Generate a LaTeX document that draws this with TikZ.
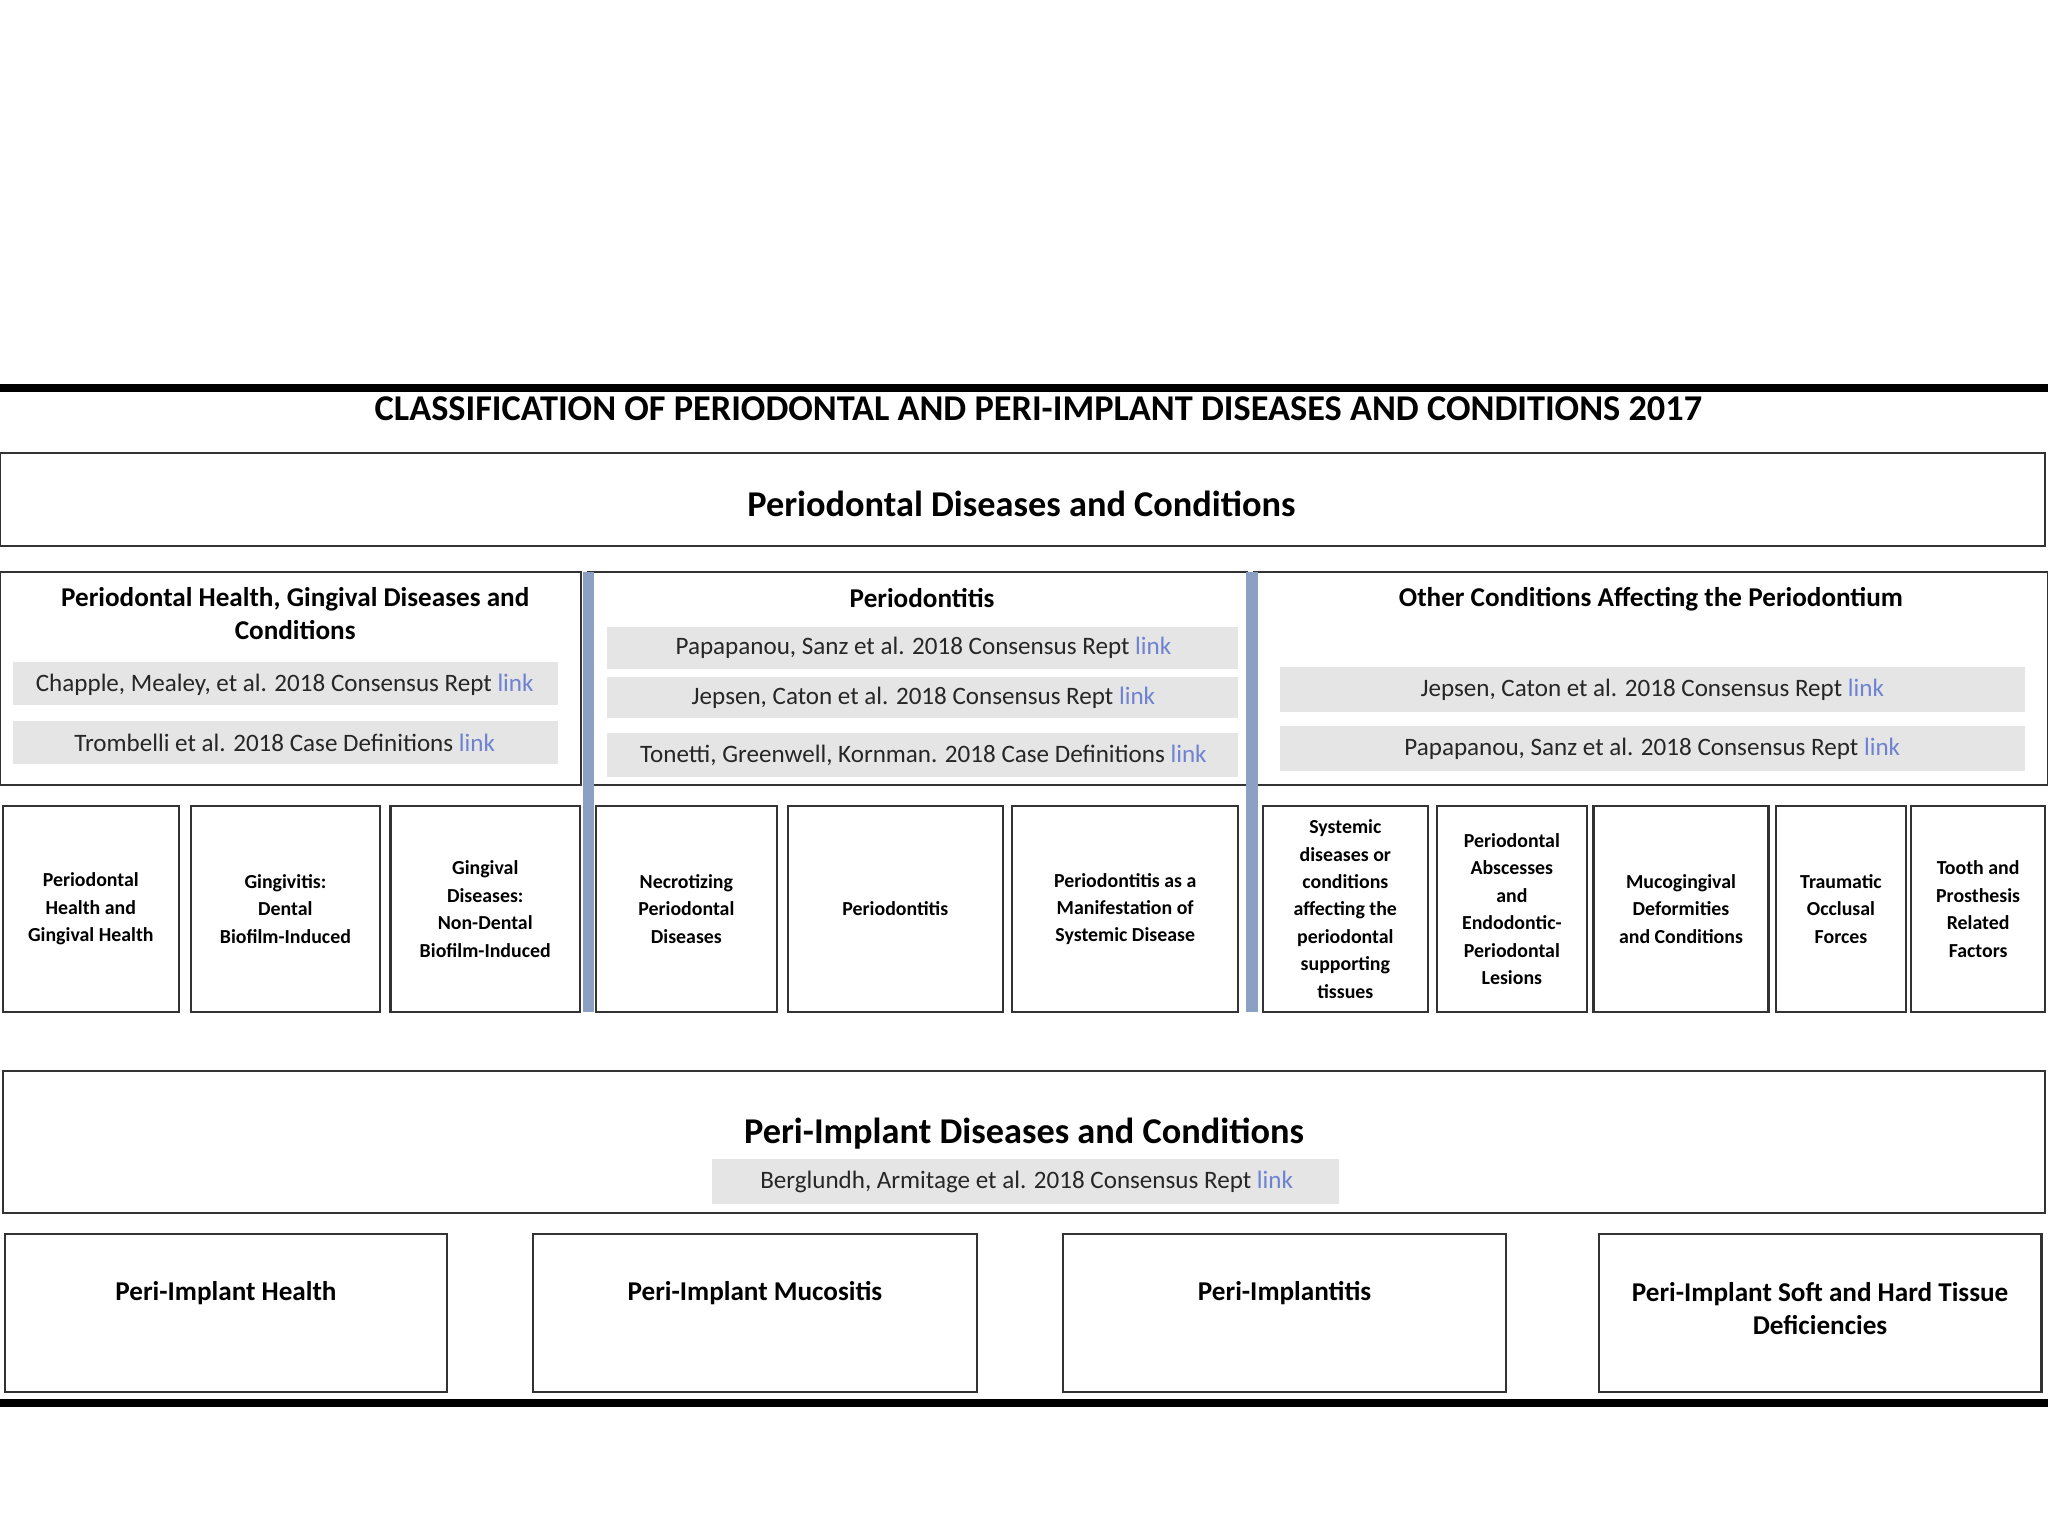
\documentclass[tikz,border=0pt]{standalone}
\usepackage{fontspec}
\setmainfont{Carlito}
\definecolor{lnk}{RGB}{110,130,210}
\definecolor{barblue}{RGB}{140,160,195}
\newcommand{\lk}{ \textcolor{lnk}{link}}
\begin{document}
\begin{tikzpicture}[x=0.5pt,y=-0.5pt,
 box/.style={draw=black!80,line width=0.8pt},
 gbar/.style={fill=black!10,draw=none},
 reft/.style={font=\fontsize{9.6}{11}\selectfont,text=black!85},
 small/.style={font=\bfseries\fontsize{7.6}{10.5}\selectfont,align=center},
 head/.style={font=\bfseries\fontsize{10.4}{12.5}\selectfont,align=center}]
\useasboundingbox (0,0) rectangle (1568,1176);
% thick lines
\draw[line width=3pt] (0,297) -- (1568,297);
\draw[line width=3pt] (0,1074) -- (1568,1074);
\node[font=\bfseries\fontsize{13.9}{15}\selectfont] (title) at (795,313) {CLASSIFICATION OF PERIODONTAL AND PERI-IMPLANT DISEASES AND CONDITIONS 2017};
\draw[box] (0,347) rectangle (1566,418);
\node[font=\bfseries\fontsize{13.9}{15}\selectfont] (pdc) at (782,386) {Periodontal Diseases and Conditions};
% panels
\draw[box] (0,438) rectangle (445,601);
\draw[box] (450,438) rectangle (955,601);
\draw[box] (960,438) rectangle (1568,601);
\fill[barblue] (446,438) rectangle (455,775);
\fill[barblue] (954,438) rectangle (963,775);
\node[head] (lh) at (226,470) {Periodontal Health, Gingival Diseases and\\Conditions};
\fill[gbar] (10,507) rectangle (427,540);
\node[reft] (l1) at (218,524) {Chapple, Mealey, et al. 2018 Consensus Rept\lk};
\fill[gbar] (10,552) rectangle (427,585);
\node[reft] (l2) at (218,569) {Trombelli et al. 2018 Case Definitions\lk};
\node[head] (mh) at (706,458) {Periodontitis};
\fill[gbar] (465,480) rectangle (948,512);
\node[reft] (m1) at (707,496) {Papapanou, Sanz et al. 2018 Consensus Rept\lk};
\fill[gbar] (465,518) rectangle (948,550);
\node[reft] (m2) at (707,534) {Jepsen, Caton et al. 2018 Consensus Rept\lk};
\fill[gbar] (465,561) rectangle (948,595);
\node[reft] (m3) at (707,578) {Tonetti, Greenwell, Kornman. 2018 Case Definitions\lk};
\node[head] (rh) at (1264,459) {Other Conditions Affecting the Periodontium};
\fill[gbar] (980,511) rectangle (1550,545);
\node[reft] (r1) at (1265,528) {Jepsen, Caton et al. 2018 Consensus Rept\lk};
\fill[gbar] (980,556) rectangle (1550,590);
\node[reft] (r2) at (1265,573) {Papapanou, Sanz et al. 2018 Consensus Rept\lk};
% small boxes
\foreach \a/\b/\n/\t in {
 2/137/b1/{Periodontal\\Health and\\Gingival Health},
 146/291/b2/{Gingivitis:\\Dental\\Biofilm-Induced},
 299/444/b3/{Gingival\\Diseases:\\Non-Dental\\Biofilm-Induced},
 456/595/b4/{Necrotizing\\Periodontal\\Diseases},
 603/768/b5/{Periodontitis},
 775/948/b6/{Periodontitis as a\\Manifestation of\\Systemic Disease},
 967/1093/b7/{Systemic\\diseases or\\conditions\\affecting the\\periodontal\\supporting\\tissues},
 1100/1215/b8/{Periodontal\\Abscesses\\and\\Endodontic-\\Periodontal\\Lesions},
 1220/1354/b9/{Mucogingival\\Deformities\\and Conditions},
 1360/1459/b10/{Traumatic\\Occlusal\\Forces},
 1463/1566/b11/{Tooth and\\Prosthesis\\Related\\Factors}}{
 \draw[box] (\a,617) rectangle (\b,775);
 \node[small] (\n) at ({(\a+\b)/2},696) {\t};
}
% peri-implant
\draw[box] (2,820) rectangle (1566,929);
\node[font=\bfseries\fontsize{13.9}{15}\selectfont] (pi) at (784,868) {Peri-Implant Diseases and Conditions};
\fill[gbar] (545,887) rectangle (1025,922);
\node[reft] (p1) at (786,905) {Berglundh, Armitage et al. 2018 Consensus Rept\lk};
\foreach \a/\b/\n/\t/\yy in {
 4/342/q1/{Peri-Implant Health}/990,
 408/748/q2/{Peri-Implant Mucositis}/990,
 814/1153/q3/{Peri-Implantitis}/990,
 1224/1563/q4/{Peri-Implant Soft and Hard Tissue\\Deficiencies}/1002}{
 \draw[box] (\a,945) rectangle (\b,1066);
 \node[head] (\n) at ({(\a+\b)/2},\yy) {\t};
}
\end{tikzpicture}
\end{document}
